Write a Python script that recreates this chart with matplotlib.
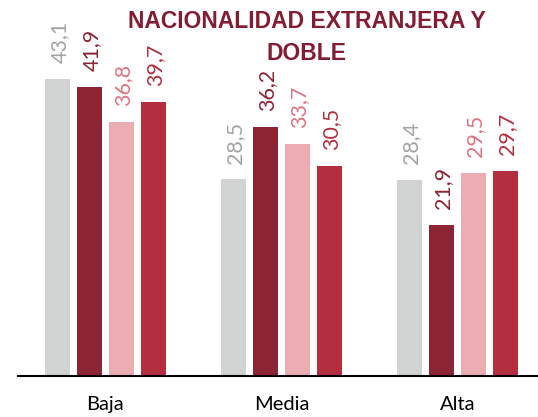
import numpy as np
import matplotlib.pyplot as plt

categorias = ["Baja", "Media", "Alta"]
serie_1 = [43.1, 28.5, 28.4]
serie_2 = [41.9, 36.2, 21.9]
serie_3 = [36.8, 33.7, 29.5]
serie_4 = [39.7, 30.5, 29.7]
titulo = ["NACIONALIDAD EXTRANJERA Y", "DOBLE"]

colores_barra = ["#D1D3D2", "#8C2433", "#EBADB3", "#B32F3F"]
colores_texto = ["#A3A3A3", "#8C2433", "#E07382", "#B32F3F"]

fig = plt.figure(figsize=(5.38, 4.17), dpi=100)
ax = fig.add_axes([18/538, 41.5/417, 1 - 18/538, 1 - 41.5/417])

x = np.arange(len(categorias))
ancho = 0.142
paso = 0.1818
series = [serie_1, serie_2, serie_3, serie_4]
for i, vals in enumerate(series):
    pos = x + (i - 1.5)*paso
    bars = ax.bar(pos, vals, width=ancho, color=colores_barra[i], zorder=2)
    for p, v in zip(pos, vals):
        ax.annotate(("%.1f" % v).replace(".", ","), (p, v), xytext=(1.5, 11.5),
                    textcoords="offset points", rotation=90, ha="center", va="bottom",
                    fontsize=15.5, family="Lato", color=colores_texto[i])

ax.set_xlim(-0.496, 2.458)
ax.set_ylim(0, 54.6)
ax.set_xticks(x)
ax.set_xticklabels(categorias, fontsize=14.5, family="Lato")
ax.tick_params(axis="x", length=0, pad=15)
ax.set_yticks([])
for s in ["top", "left", "right"]:
    ax.spines[s].set_visible(False)
ax.spines["bottom"].set_linewidth(1.5)

# title as two separate lines
for k, linea in enumerate(titulo):
    fig.text(307/538, 1 - (28 + 32*k)/417, linea, ha="center", va="baseline", fontsize=16.5,
             fontweight="bold", family="Liberation Sans", color="#841C34")

fig.savefig("out.png", dpi=100)
